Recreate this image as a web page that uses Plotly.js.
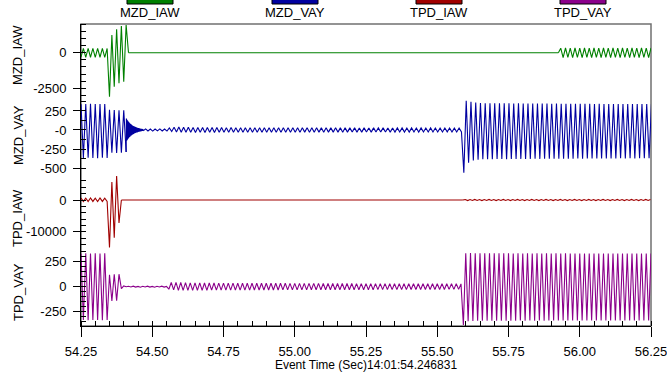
<!DOCTYPE html>
<html>
<head>
<meta charset="utf-8">
<script src="https://cdn.plot.ly/plotly-3.0.1.min.js"></script>
<style>html,body{margin:0;padding:0;background:#fff;}#chart{width:667px;height:372px;}</style>
</head>
<body>
<div id="chart"></div>
<script>
// ---------------- DATA ----------------
const seriesNames = ["MZD_IAW", "MZD_VAY", "TPD_IAW", "TPD_VAY"];
const seriesColors = ["#008000", "#0000A0", "#A00000", "#8B008B"];
const halfCycle = 1 / 120;           // sample spacing of the half-cycle extremes (60 Hz)
const ringStep = 0.001;              // spacing of the high-frequency ringing samples

// MZD_IAW
const mzdIawA_t0 = 54.25;
const mzdIawA = [-300, 310, -330, 300, -320, 310, -330, 300, -320, 310, -330, 300,
  -3090, 1240, -2390, 1640, -2150, 1870, -2030, 1950, 0];
const mzdIawFlatT = [54.4167, 55.925];
const mzdIawFlatV = [0, 0];
const mzdIawC_t0 = 55.925;
const mzdIawC = [0, 320, -340, 330, -335, 325, -340, 330, -335, 325,
  -340, 330, -335, 325, -340, 330, -335, 325, -340, 330,
  -335, 325, -340, 330, -335, 325, -340, 330, -335, 325,
  -340, 330, -335, 325, -340, 330, -335, 325, -340, 330];

// MZD_VAY
const mzdVayA_t0 = 54.25;
const mzdVayA = [340, -368, 342, -366, 345, -368, 342, -370, 340, -366, 342, -368,
  265, -300, 262, -303, 260, -300, 258, -290];
const mzdVayRing_t0 = 54.4083;
const mzdVayRing = [-290, 150, -140, 135, -130, 125, -120, 115, -110, 105, -100, 96, -92, 88, -84, 80,
  -77, 74, -71, 68, -65, 62, -60, 57, -55, 53, -51, 49, -47, 45, -43, 41, -40, 38, -36, 35,
  -33, 32, -31, 29, -28, 27, -26, 25, -24, 23, -22, 21, -20, 19, -18, 17, -16, 15, -15, 14,
  -13, 12, -12, 11, -10];
const mzdVayB_t0 = 54.4683;
const mzdVayB = [-12, 14, -13, 12, -14, 13, -12, 14, -13, 12, -14,
  28, -20, 36, -26, 38, -30, 36, -31, 35, -31,
  34, -32, 34, -31, 33, -32, 33, -31, 32, -32,
  33, -31, 32, -30, 31, -31, 32, -30, 31, -31,
  30, -30, 31, -30, 30, -31, 31, -29, 30, -30,
  31, -30, 30, -29, 29, -30, 30, -29, 30, -30,
  29, -29, 30, -29, 29, -30, 29, -28, 29, -29,
  28, -29, 29, -28, 28, -29, 29, -28, 28, -28,
  29, -28, 28, -29, 28, -28, 28, -27, 28, -28,
  27, -28, 28, -27, 27, -28, 28, -27, 27, -27,
  28, -27, 27, -28, 27, -27, 27, -26, 27, -27,
  26, -27, 27, -26, 26, -27, 27, -26, 26, -26,
  27, -26, 26, -27, 26, -26, 26, -25, 26, -26,
  25, -26, 26, -25,
  -562,
  385, -430, 372, -400, 360, -390, 355, -385, 352, -384,
  350, -383, 352, -382, 350, -382, 351, -383, 350, -382,
  349, -381, 350, -380, 348, -381, 349, -380, 348, -379,
  347, -380, 348, -379, 347, -378, 346, -379, 347, -378,
  346, -377, 345, -378, 346, -377, 345, -376, 344, -377,
  345, -376, 344, -375, 343, -376, 344, -375, 343, -374,
  342, -375, 343, -374, 342, -373, 343, -374, 342, -373,
  342, -374, 343, -373, 342, -373, 341, -372, 342];

// TPD_IAW
const tpdIawA_t0 = 54.25;
const tpdIawA = [650, -450, 600, -500, 650, -450, 600, -500, 650, -450, 600, -450,
  -15000, 5680, -11900, 7570, -7250, 0];
const tpdIawFlatT = [54.3917, 55.59];
const tpdIawFlatV = [0, 0];
const tpdIawC_t0 = 55.59;
const tpdIawC = [0, 160, -170, 150, -160, 170, -150, 160, -170, 150,
  -160, 170, -150, 160, -170, 150, -160, 170, -150, 160,
  -170, 150, -160, 170, -150, 160, -170, 150, -160, 170,
  -150, 160, -170, 150, -160, 170, -150, 160, -170, 150,
  -160, 170, -150, 160, -170, 150, -160, 170, -150, 160,
  -170, 150, -160, 170, -150, 160, -170, 150, -160, 170,
  -150, 160, -170, 150, -160, 170, -150, 160, -170, 150,
  -160, 170, -150, 160, -170, 150, -160, 170, -150, 160];

// TPD_VAY
const tpdVay_t0 = 54.25;
const tpdVay = [330, -333, 334, -335, 332, -333, 334, -333, 332, -335, 334, -333,
  120, -143, 124, -140, 125, -20, 8, 0,
  4, -3, 5, -4, 3, -5, 4, -3, 5, -4, 3, -5, 4, -3, 5, -4, 3,
  -25, 42, -32, 44, -36, 42, -37, 40, -37, 39,
  -37, 38, -36, 38, -36, 37, -36, 37, -35, 37,
  -35, 36, -35, 36, -35, 36, -34, 36, -34, 35,
  -34, 35, -34, 35, -34, 35, -33, 35, -33, 34,
  -33, 34, -33, 34, -33, 34, -33, 34, -32, 34,
  -32, 33, -32, 33, -32, 33, -32, 33, -32, 33,
  -31, 33, -31, 33, -31, 32, -31, 32, -31, 32,
  -31, 32, -30, 32, -30, 32, -30, 32, -30, 31,
  -30, 31, -30, 31, -30, 31, -30, 31, -29, 31,
  -29, 31, -29, 30, -29, 30, -29, 30, -29, 30,
  -29, 30, -28, 30, -28, 30, -28, 30, -28, 29,
  -28, 29, -28, 29, -28, 29, -28, 29, -27, 29,
  -27, 29, -27, 28,
  -383,
  334, -345, 336, -342, 335, -340, 334, -341, 335, -340,
  334, -340, 335, -341, 334, -340, 335, -340, 334, -341,
  333, -340, 334, -339, 333, -340, 334, -339, 333, -340,
  334, -339, 333, -340, 334, -339, 333, -338, 334, -339,
  333, -338, 334, -339, 333, -338, 332, -339, 333, -338,
  332, -339, 333, -338, 332, -338, 333, -339, 332, -338,
  333, -338, 332, -339, 333, -338, 332, -338, 333, -339,
  332, -338, 333, -338, 332, -339, 333, -338, 332];

// axis tick values / labels
const xRange = [54.25, 56.25];
const xTickVals = [54.25, 54.5, 54.75, 55.0, 55.25, 55.5, 55.75, 56.0, 56.25];
const xTickText = ["54.25", "54.50", "54.75", "55.00", "55.25", "55.50", "55.75", "56.00", "56.25"];
const yRanges = [[-3285, 2015], [-592, 401], [-15930, 7890], [-393, 362]];
const yTickVals = [[0, -2500], [250, 0, -250, -500], [0, -10000], [250, 0, -250]];
const yTickText = [["0", "-2500"], ["250", "-0", "-250", "-500"], ["0", "-10000"], ["250", "0", "-250"]];
const yMinorStep = [500, 125, 2000, 50];
const xTitle = "Event Time (Sec)14:01:54.246831";

// ---------------- CHART ----------------
const FONT = "Liberation Sans, Arial, Helvetica, sans-serif";
function uniform(vals, t0, dt, yax, color) {
  return {type: "scatter", mode: "lines", x0: t0, dx: dt, y: vals, xaxis: "x", yaxis: yax,
    line: {color: color, width: 1.1, simplify: false}, showlegend: false, hoverinfo: "skip"};
}
function explicit(xs, ys, yax, color) {
  return {type: "scatter", mode: "lines", x: xs, y: ys, xaxis: "x", yaxis: yax,
    line: {color: color, width: 1.1, simplify: false}, showlegend: false, hoverinfo: "skip"};
}
const traces = [
  uniform(mzdIawA, mzdIawA_t0, halfCycle, "y", seriesColors[0]),
  explicit(mzdIawFlatT, mzdIawFlatV, "y", seriesColors[0]),
  uniform(mzdIawC, mzdIawC_t0, halfCycle, "y", seriesColors[0]),
  uniform(mzdVayA, mzdVayA_t0, halfCycle, "y2", seriesColors[1]),
  uniform(mzdVayRing, mzdVayRing_t0, ringStep, "y2", seriesColors[1]),
  uniform(mzdVayB, mzdVayB_t0, halfCycle, "y2", seriesColors[1]),
  uniform(tpdIawA, tpdIawA_t0, halfCycle, "y3", seriesColors[2]),
  explicit(tpdIawFlatT, tpdIawFlatV, "y3", seriesColors[2]),
  uniform(tpdIawC, tpdIawC_t0, halfCycle, "y3", seriesColors[2]),
  uniform(tpdVay, tpdVay_t0, halfCycle, "y4", seriesColors[3])
];

const L = 81, R = 16, T = 24, B = 46, W = 667, H = 372;
const PW = W - L - R, PH = H - T - B;
const px = v => (v - L) / PW;
const py = v => (H - B - v) / PH;

const layout = {
  width: W, height: H,
  margin: {l: L, r: R, t: T, b: B, pad: 0},
  paper_bgcolor: "#ffffff", plot_bgcolor: "#ffffff",
  font: {family: FONT, size: 13, color: "#000"},
  showlegend: false,
  xaxis: {
    anchor: "y4", domain: [0, 1], range: xRange,
    tickmode: "array", tickvals: xTickVals, ticktext: xTickText,
    ticks: "outside", ticklen: 10, tickcolor: "#000", tickwidth: 1,
    ticklabelstandoff: 3, ticklabeloverflow: "allow",
    minor: {tickmode: "linear", tick0: 54.25, dtick: 0.05, ticks: "inside", ticklen: 5, tickcolor: "#000", showgrid: false},
    showline: true, linecolor: "#000", linewidth: 1,
    showgrid: false, zeroline: false,
    tickfont: {size: 13},
    title: {text: xTitle, font: {size: 12}, standoff: 3}
  },
  shapes: [],
  annotations: []
};
const domains = [[0.75, 1], [0.5, 0.75], [0.25, 0.5], [0, 0.25]];
for (let i = 0; i < 4; i++) {
  const key = i === 0 ? "yaxis" : "yaxis" + (i + 1);
  layout[key] = {
    anchor: "x", domain: domains[i], range: yRanges[i],
    tickmode: "array", tickvals: yTickVals[i], ticktext: yTickText[i],
    ticks: "outside", ticklen: 7, tickcolor: "#000", tickwidth: 1,
    ticklabelstandoff: 4, ticklabeloverflow: "allow",
    minor: {tickmode: "linear", tick0: 0, dtick: yMinorStep[i], ticks: "inside", ticklen: 5, tickcolor: "#000", showgrid: false},
    showline: true, linecolor: "#000", linewidth: 1,
    showgrid: false, zeroline: false, tickfont: {size: 13}
  };
}
// frame
layout.shapes.push({type: "rect", xref: "paper", yref: "paper", x0: 0, x1: 1, y0: 0, y1: 1,
  line: {color: "#707070", width: 1.5}, fillcolor: "rgba(0,0,0,0)", layer: "below"});
// y titles as rotated annotations
const yTitleY = [55, 135, 218, 292];
for (let i = 0; i < 4; i++) {
  layout.annotations.push({xref: "paper", yref: "paper", x: px(18), y: py(yTitleY[i]),
    text: seriesNames[i], textangle: -90, showarrow: false, xanchor: "center", yanchor: "middle",
    font: {size: 13}});
}
// legend across the top
const legendCenters = [150, 295, 439, 583];
for (let i = 0; i < 4; i++) {
  const c = legendCenters[i];
  layout.shapes.push({type: "rect", xref: "paper", yref: "paper",
    x0: px(c - 23), x1: px(c + 23), y0: py(4), y1: py(-6),
    line: {color: "#000", width: 1}, fillcolor: seriesColors[i]});
  layout.annotations.push({xref: "paper", yref: "paper", x: px(c), y: py(12),
    text: seriesNames[i], showarrow: false, xanchor: "center", yanchor: "middle", font: {size: 13}});
}
Plotly.newPlot("chart", traces, layout, {staticPlot: true, displayModeBar: false});
</script>
</body>
</html>
